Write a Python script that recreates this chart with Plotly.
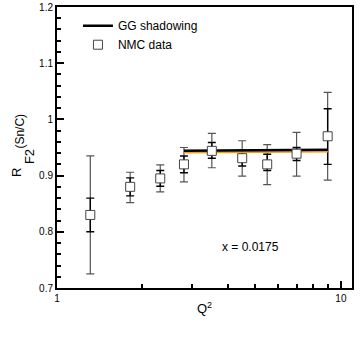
import plotly.graph_objects as go

# NMC data, x = 0.0175
q2 = [1.31, 1.81, 2.31, 2.80, 3.51, 4.49, 5.50, 6.98, 8.98]
ratio = [0.830, 0.880, 0.895, 0.920, 0.944, 0.931, 0.920, 0.939, 0.970]
stat_up = [0.030, 0.016, 0.014, 0.015, 0.015, 0.014, 0.018, 0.011, 0.049]
stat_dn = [0.030, 0.016, 0.014, 0.015, 0.013, 0.014, 0.011, 0.012, 0.050]
tot_up = [0.105, 0.026, 0.024, 0.030, 0.031, 0.031, 0.035, 0.038, 0.078]
tot_dn = [0.105, 0.028, 0.024, 0.031, 0.030, 0.032, 0.036, 0.040, 0.078]

# GG shadowing curve
gg_q2 = [2.80, 9.0]
gg_r = [0.944, 0.946]
gg_band = [0.941, 0.943]

fig = go.Figure()

fig.add_trace(go.Scatter(
    x=q2, y=ratio, mode="markers", showlegend=False,
    marker=dict(size=0.1, color="rgba(0,0,0,0)"),
    error_y=dict(type="data", symmetric=False, array=tot_up, arrayminus=tot_dn,
                 color="#555555", thickness=1.2, width=4),
))
fig.add_trace(go.Scatter(
    x=q2, y=ratio, mode="markers", showlegend=False,
    marker=dict(size=0.1, color="rgba(0,0,0,0)"),
    error_y=dict(type="data", symmetric=False, array=stat_up, arrayminus=stat_dn,
                 color="black", thickness=1.4, width=4),
))
fig.add_trace(go.Scatter(
    x=gg_q2, y=gg_band, mode="lines", showlegend=False,
    line=dict(color="#f0a010", width=2),
))
fig.add_trace(go.Scatter(
    x=gg_q2, y=gg_r, mode="lines", name="GG shadowing",
    line=dict(color="black", width=2.5),
))
fig.add_trace(go.Scatter(
    x=q2, y=ratio, mode="markers", name="NMC data",
    marker=dict(symbol="square", size=9, color="white",
                line=dict(color="#444444", width=1)),
))

fig.add_annotation(
    x=0.68, y=0.773, xref="x", yref="y", text="x = 0.0175",
    showarrow=False, font=dict(size=12, color="black"),
)

# y axis title: R, subscript F2, superscript (Sn/C)
for txt, px_x, px_y, size in [("R", -0.168, 0.413, 13),
                               ("F2", -0.127, 0.466, 13),
                               ("(Sn/C)", -0.156, 0.560, 12)]:
    fig.add_annotation(
        x=px_x, y=px_y, xref="paper", yref="paper", text=txt,
        textangle=-90, showarrow=False, font=dict(size=size, color="black"),
    )

fig.update_layout(
    width=360, height=346,
    margin=dict(l=57, r=8, t=7, b=58),
    paper_bgcolor="white", plot_bgcolor="white",
    font=dict(family="Liberation Sans, Arial, sans-serif", color="black"),
    legend=dict(x=0.071, y=0.985, xanchor="left", yanchor="top",
                bgcolor="rgba(0,0,0,0)", font=dict(size=12),
                tracegroupgap=0, itemwidth=30),
    xaxis=dict(
        type="log", range=[0, 1.039], automargin=False,
        tickvals=[1, 10], ticktext=["1", "10"],
        ticks="inside", ticklen=7, tickwidth=1.5, tickcolor="black",
        minor=dict(tickvals=[2, 3, 4, 5, 6, 7, 8, 9], ticks="inside",
                   ticklen=4, tickcolor="black"),
        showline=True, linecolor="black", linewidth=2, mirror=True,
        showgrid=False, zeroline=False,
        tickfont=dict(size=10),
        title=dict(text="Q<sup>2</sup>", font=dict(size=13), standoff=1),
    ),
    yaxis=dict(
        range=[0.7, 1.2], dtick=0.1, automargin=False,
        ticks="inside", ticklen=7, tickwidth=1.5, tickcolor="black",
        minor=dict(dtick=0.02, ticks="inside", ticklen=4, tickcolor="black"),
        showline=True, linecolor="black", linewidth=2, mirror=True,
        showgrid=False, zeroline=False,
        tickfont=dict(size=10),
    ),
)

# remove the default page margin so the figure sits at the window's corner
fig.write_html("out.html", config={"displayModeBar": False},
               post_script="document.body.style.margin = '0';")
